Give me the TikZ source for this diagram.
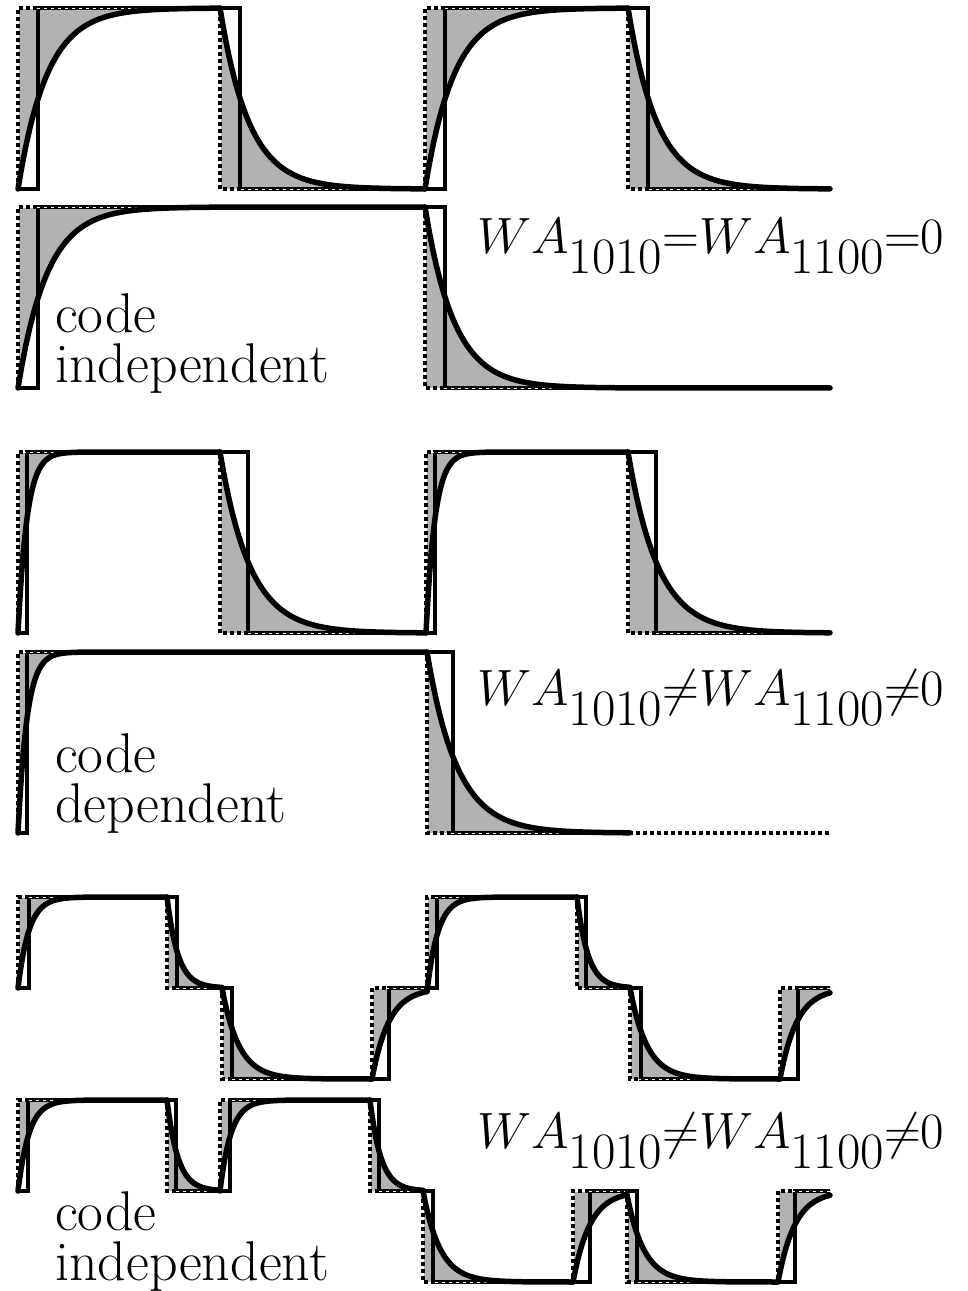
\RequirePackage{fix-cm}
\documentclass[tikz,border=0pt]{standalone}
\usepackage{tikz}
\newcommand{\lowsub}[1]{\raisebox{-0.4em}{#1}}
\tikzset{
  wave/.style={line width=5.5pt, line cap=round, line join=round},
  delayed/.style={line width=3.2pt},
  ideal/.style={line width=4pt, preaction={draw=white, solid}, draw=black, dash pattern=on 3.6pt off 3.4pt},
  shade/.style={fill=black!30},
  lbl/.style={font=\fontsize{56}{50}\selectfont, inner sep=0pt, align=left, anchor=base west},
  mlbl/.style={font=\fontsize{51}{58}\selectfont, inner sep=0pt, anchor=base west}
}
% segment list entries: xa/xb/ystart/ylevel/tau
\newcommand{\segfill}[1]{%
  \foreach \xa/\xb/\ys/\yn/\tc in #1{%
    \pgfmathsetmacro\xe{min(\xb,\xa+9*\tc)}%
    \pgfmathsetmacro\yend{\yn+(\ys-\yn)*exp(max(-9,-(\xb-\xa)/\tc))}%
    \fill[shade] (\xa,\yn) -- plot[domain=\xa:\xe, samples=70] (\x,{\yn+(\ys-\yn)*exp(-(\x-\xa)/\tc)}) -- (\xb,\yend) -- (\xb,\yn) -- cycle;
  }}
\newcommand{\segcurve}[1]{%
  \foreach \xa/\xb/\ys/\yn/\tc in #1{%
    \pgfmathsetmacro\xe{min(\xb,\xa+9*\tc)}%
    \pgfmathsetmacro\yend{\yn+(\ys-\yn)*exp(max(-9,-(\xb-\xa)/\tc))}%
    \draw[wave] plot[domain=\xa:\xe, samples=70] (\x,{\yn+(\ys-\yn)*exp(-(\x-\xa)/\tc)}) -- (\xb,\yend);
  }}
\def\rowA{18/220/189/8/29, 220/425/8/189/29, 425/628/189/8/29, 628/830/8/189/29}
\def\rowB{18/425/388/207/29, 425/830/207/388/29}
\def\rowC{18/220/633/452/9, 220/426/452/633/30, 426/628/633/452/9, 628/830/452/633/30}
\def\rowD{18/427/833/652/9, 427/630/652/833/30}
\def\rowE{18/167/988/897/11, 167/222/897/988/11, 222/372/988/1079/17, 372/427/1079/988/17, 427/577/991.6/897/11, 577/630/897/988/11, 630/780/988/1079/17, 780/830/1079/988/17}
\def\rowF{18/167/1191/1100/11, 167/220/1100/1191/11, 220/370/1191/1100/11, 370/423/1100/1191/11, 423/573/1191/1282/17, 573/627/1282/1191/17, 627/778/1194.8/1282/17, 778/830/1282/1191/17}
\begin{document}
\begin{tikzpicture}[x=1pt, y=-1pt]
\useasboundingbox (0,0) rectangle (967,1291);
% gray areas
\segfill{\rowA}
\segfill{\rowB}
\segfill{\rowC}
\segfill{\rowD}
\segfill{\rowE}
\segfill{\rowF}
% delayed square waves
\draw[delayed] (18,189)--(38,189)--(38,8)--(240,8)--(240,189)--(445,189)--(445,8)--(648,8)--(648,189)--(830,189);
\draw[delayed] (18,388)--(38,388)--(38,207)--(445,207)--(445,388)--(830,388);
\draw[delayed] (18,633)--(27,633)--(27,452)--(248,452)--(248,633)--(435,633)--(435,452)--(656,452)--(656,633)--(830,633);
\draw[delayed] (18,833)--(27,833)--(27,652)--(453,652)--(453,833)--(630,833);
\draw[delayed] (18,988)--(29,988)--(29,897)--(177,897)--(177,988)--(232,988)--(232,1079)--(389,1079)--(389,988)--(437,988)--(437,897)--(586,897)--(586,988)--(641,988)--(641,1079)--(798,1079)--(798,988)--(830,988);
\draw[delayed] (18,1191)--(28,1191)--(28,1100)--(176,1100)--(176,1191)--(230,1191)--(230,1100)--(379,1100)--(379,1191)--(433,1191)--(433,1282)--(590,1282)--(590,1191)--(637,1191)--(637,1282)--(795,1282)--(795,1191)--(830,1191);
% ideal square waves
\draw[ideal] (18,189)--(18,8)--(220,8)--(220,189)--(425,189)--(425,8)--(628,8)--(628,189)--(830,189);
\draw[ideal] (18,388)--(18,207)--(425,207)--(425,388)--(830,388);
\draw[ideal] (18,633)--(18,452)--(220,452)--(220,633)--(426,633)--(426,452)--(628,452)--(628,633)--(830,633);
\draw[ideal] (18,833)--(18,652)--(427,652)--(427,833)--(830,833);
\draw[ideal] (18,988)--(18,897)--(167,897)--(167,988)--(222,988)--(222,1079)--(372,1079)--(372,988)--(427,988)--(427,897)--(577,897)--(577,988)--(630,988)--(630,1079)--(780,1079)--(780,988)--(830,988);
\draw[ideal] (18,1191)--(18,1100)--(167,1100)--(167,1191)--(220,1191)--(220,1100)--(370,1100)--(370,1191)--(423,1191)--(423,1282)--(573,1282)--(573,1191)--(627,1191)--(627,1282)--(778,1282)--(778,1191)--(830,1191);
% actual responses
\segcurve{\rowA}
\segcurve{\rowB}
\segcurve{\rowC}
\segcurve{\rowD}
\segcurve{\rowE}
\segcurve{\rowF}
% labels
\node[lbl] (t1) at (55,382) {code\\independent};
\node[lbl] (t2) at (55,822) {code\\dependent};
\node[lbl] (t3) at (55,1280) {code\\independent};
\node[mlbl] (m1) at (477,253) {$WA$\lowsub{1010}${=}WA$\lowsub{1100}${=}0$};
\node[mlbl] (m2) at (477,705) {$WA$\lowsub{1010}${\neq}WA$\lowsub{1100}${\neq}0$};
\node[mlbl] (m3) at (477,1148) {$WA$\lowsub{1010}${\neq}WA$\lowsub{1100}${\neq}0$};
\end{tikzpicture}
\end{document}
